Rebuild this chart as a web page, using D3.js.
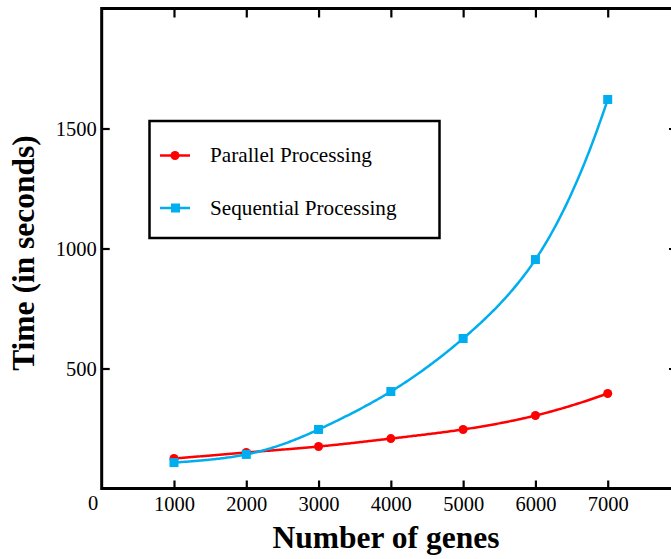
<!DOCTYPE html>
<html><head><meta charset="utf-8">
<script src="https://d3js.org/d3.v7.min.js"></script>
<style>body{margin:0;background:#fff}svg{display:block}</style>
</head><body><svg id="c" width="671" height="559"></svg>
<script>
const genes = [1000, 2000, 3000, 4000, 5000, 6000, 7000];
const parallel = [125, 150, 175, 208, 246, 304, 396];
const sequential = [108, 142, 246, 404, 625, 954, 1621];
const xTicks = [1000, 2000, 3000, 4000, 5000, 6000, 7000];
const yTicks = [500, 1000, 1500];
const seriesNames = ["Parallel Processing", "Sequential Processing"];
const colors = ["#ff0000", "#00aeef"];

const svg = d3.select("#c");
const font = "'Liberation Serif','Times New Roman',serif";
const x = d3.scaleLinear().domain([0, 8000]).range([101.7, 680]);
const y = d3.scaleLinear().domain([0, 2000]).range([488.5, 8.5]);

svg.append("rect").attr("x", x(0)).attr("y", y(2000)).attr("width", x(8000) - x(0)).attr("height", y(0) - y(2000))
  .attr("fill", "none").attr("stroke", "#000").attr("stroke-width", 3);

const fmt = d3.format("d");
const gb = svg.append("g").attr("transform", `translate(0,${y(0)})`)
  .call(d3.axisBottom(x).tickValues(xTicks).tickFormat(fmt).tickSizeInner(-8).tickSizeOuter(0));
const gt = svg.append("g").attr("transform", `translate(0,${y(2000)})`)
  .call(d3.axisTop(x).tickValues(xTicks).tickFormat("").tickSizeInner(-9).tickSizeOuter(0));
const gl = svg.append("g").attr("transform", `translate(${x(0)},0)`)
  .call(d3.axisLeft(y).tickValues(yTicks).tickFormat(fmt).tickSizeInner(-8).tickSizeOuter(0));
const gr = svg.append("g").attr("transform", `translate(${x(8000)},0)`)
  .call(d3.axisRight(y).tickValues(yTicks).tickFormat("").tickSizeInner(-11).tickSizeOuter(0));
[gb, gt, gl, gr].forEach(g => {
  g.select(".domain").remove();
  g.selectAll(".tick line").attr("stroke", "#000").attr("stroke-width", 2.2);
  g.selectAll(".tick text").attr("font-family", font).attr("font-size", 20.5).attr("fill", "#000");
});
gb.selectAll(".tick text").attr("dy", null).attr("y", 22);
gl.selectAll(".tick text").attr("x", -5);

svg.append("text").attr("x", 93).attr("y", 510).attr("text-anchor", "middle")
  .attr("font-family", font).attr("font-size", 20.5).text("0");

// smooth connecting spline through the points, interpolated in log-space
function logSpline(xs0, ys0) {
  const xs = xs0.map(v => v / 1000), ys = ys0.map(v => Math.log(v)), n = xs.length;
  const h = d3.range(n - 1).map(i => xs[i + 1] - xs[i]);
  const M = new Array(n).fill(0);
  const A = [], B = [], C = [], D = [];
  for (let i = 1; i < n - 1; i++) {
    A.push(h[i - 1]); B.push(2 * (h[i - 1] + h[i])); C.push(h[i]);
    D.push(6 * ((ys[i + 1] - ys[i]) / h[i] - (ys[i] - ys[i - 1]) / h[i - 1]));
  }
  const m = B.length;
  for (let i = 1; i < m; i++) { const w = A[i] / B[i - 1]; B[i] -= w * C[i - 1]; D[i] -= w * D[i - 1]; }
  const sol = new Array(m);
  sol[m - 1] = D[m - 1] / B[m - 1];
  for (let i = m - 2; i >= 0; i--) sol[i] = (D[i] - C[i] * sol[i + 1]) / B[i];
  for (let i = 0; i < m; i++) M[i + 1] = sol[i];
  return v0 => {
    const v = v0 / 1000;
    let i = Math.min(n - 2, Math.max(0, d3.bisectRight(xs, v) - 1));
    const a = (xs[i + 1] - v) / h[i], b = (v - xs[i]) / h[i];
    const s = a * ys[i] + b * ys[i + 1] + ((a * a * a - a) * M[i] + (b * b * b - b) * M[i + 1]) * h[i] * h[i] / 6;
    return Math.exp(s);
  };
}
const line = d3.line().x(d => x(d[0])).y(d => y(d[1]));
const seriesData = [parallel, sequential];
seriesData.forEach((vals, i) => {
  const f = logSpline(genes, vals);
  const xs = d3.range(genes[0], genes[genes.length - 1] + 1, 20);
  svg.append("path").attr("d", line(xs.map(v => [v, f(v)]))).attr("fill", "none").attr("stroke", colors[i]).attr("stroke-width", 2.5);
});
svg.append("g").selectAll("circle").data(genes.map((g, j) => [g, parallel[j]])).join("circle")
  .attr("cx", d => x(d[0])).attr("cy", d => y(d[1])).attr("r", 4.5).attr("fill", colors[0]);
svg.append("g").selectAll("rect").data(genes.map((g, j) => [g, sequential[j]])).join("rect")
  .attr("x", d => x(d[0]) - 4.5).attr("y", d => y(d[1]) - 4.5).attr("width", 9).attr("height", 9).attr("fill", colors[1]);

const lg = svg.append("g");
lg.append("rect").attr("x", 149.5).attr("y", 121).attr("width", 290).attr("height", 117)
  .attr("fill", "#fff").attr("stroke", "#000").attr("stroke-width", 2.5);
const ly = [155.5, 208];
seriesNames.forEach((n, i) => {
  lg.append("line").attr("x1", 160).attr("x2", 190).attr("y1", ly[i]).attr("y2", ly[i])
    .attr("stroke", colors[i]).attr("stroke-width", 2.5);
  if (i === 0) lg.append("circle").attr("cx", 175).attr("cy", ly[i]).attr("r", 4.5).attr("fill", colors[i]);
  else lg.append("rect").attr("x", 171).attr("y", ly[i] - 4.5).attr("width", 9).attr("height", 9).attr("fill", colors[i]);
  lg.append("text").attr("x", 210).attr("y", ly[i] + 6.8).attr("font-family", font).attr("font-size", 21.2).text(n);
});

svg.append("text").attr("x", 386).attr("y", 548).attr("text-anchor", "middle")
  .attr("font-family", font).attr("font-weight", "bold").attr("font-size", 31.5).text("Number of genes");
svg.append("text").attr("transform", "translate(34,253) rotate(-90)").attr("text-anchor", "middle")
  .attr("font-family", font).attr("font-weight", "bold").attr("font-size", 31.5).text("Time (in seconds)");
</script></body></html>
